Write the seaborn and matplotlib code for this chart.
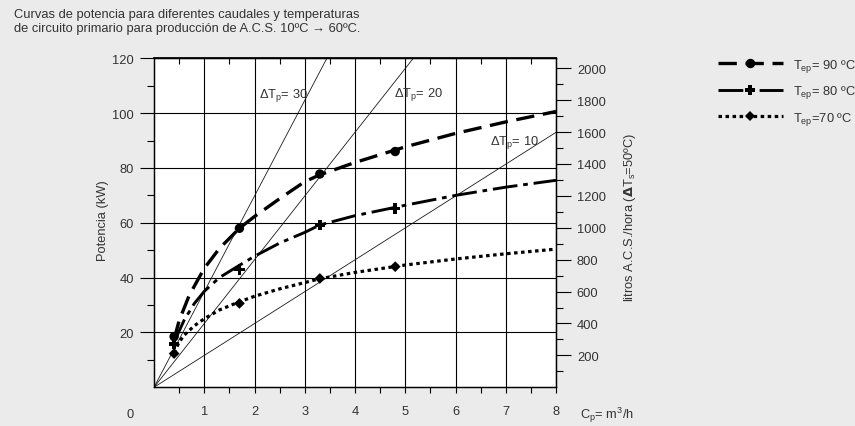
import numpy as np
import pandas as pd
import matplotlib
matplotlib.use("Agg")
import matplotlib.pyplot as plt
import seaborn as sns
from matplotlib import font_manager
from matplotlib.lines import Line2D
from matplotlib.ticker import FixedLocator

# ---------------- data ----------------
caudal_90 = [0.40, 0.50, 0.70, 1.00, 1.30, 1.70, 2.00, 2.50, 3.00, 3.30, 4.00, 5.00, 6.00, 7.00, 8.00]
potencia_90 = [17.5, 24.3, 33.5, 43.4, 50.6, 58.0, 62.3, 68.8, 75.0, 77.5, 82.0, 87.7, 92.6, 96.8, 100.6]
caudal_80 = [0.40, 0.60, 0.80, 1.00, 1.30, 1.70, 2.00, 2.50, 3.00, 3.30, 4.00, 5.00, 6.00, 7.00, 8.00]
potencia_80 = [16.5, 24.5, 30.5, 35.0, 40.0, 44.5, 47.8, 52.6, 56.5, 59.2, 62.6, 66.4, 70.0, 73.0, 75.5]
caudal_70 = [0.40, 0.50, 0.60, 0.80, 1.00, 1.30, 1.70, 2.00, 2.50, 3.00, 3.30, 4.00, 5.00, 6.00, 7.00, 8.00]
potencia_70 = [12.5, 16.5, 19.0, 22.4, 25.0, 28.2, 31.2, 33.2, 35.9, 38.2, 39.6, 41.9, 44.6, 46.8, 48.7, 50.4]

punto_caudal = [0.40, 1.70, 3.30, 4.80]
punto_90 = [18.5, 58.0, 77.8, 86.0]
punto_80 = [15.8, 43.0, 59.1, 65.2]
punto_70 = [12.3, 30.6, 39.7, 44.0]

serie_labels = ["90", "80", "70"]

# Delta Tp straight lines (from origin to where they leave the frame)
dtp_labels = ["30", "20", "10"]
dtp_caudal = [[0.0, 3.44], [0.0, 5.16], [0.0, 8.0]]
dtp_potencia = [[0.0, 120.0], [0.0, 120.0], [0.0, 93.0]]

x_ticks = [1, 2, 3, 4, 5, 6, 7, 8]
y_ticks = [20, 40, 60, 80, 100, 120]
litros_ticks = [200, 400, 600, 800, 1000, 1200, 1400, 1600, 1800, 2000]
litros_max = 2062.5  # litros/hora at 120 kW

# ---------------- style ----------------
sns.set_theme(style="white")
names = {f.name for f in font_manager.fontManager.ttflist}
if "Liberation Sans Narrow" in names:
    FAM = ["Liberation Sans Narrow", "Liberation Sans", "DejaVu Sans"]
    FS = 10.0
else:
    FAM = ["Liberation Sans", "DejaVu Sans"]
    FS = 9.3
plt.rcParams["font.family"] = FAM
plt.rcParams["mathtext.default"] = "regular"
TXT = "#333333"
BG = "#ebebeb"

fig = plt.figure(figsize=(8.55, 4.27), dpi=100, facecolor=BG)
W, H = 855.0, 427.0
L, R, T, B = 154.0, 556.0, 59.3, 388.3
ax = fig.add_axes([L / W, 1 - B / H, (R - L) / W, (B - T) / H])
ax.set_facecolor("white")

# grid
ax.set_xlim(0, 8)
ax.set_ylim(0, 120)
ax.set_axisbelow(True)
ax.xaxis.set_major_locator(FixedLocator(x_ticks))
ax.xaxis.set_minor_locator(FixedLocator([v - 0.5 for v in x_ticks]))
ax.yaxis.set_major_locator(FixedLocator(y_ticks))
ax.yaxis.set_minor_locator(FixedLocator([v - 10 for v in y_ticks]))
ax.grid(True, which="major", color="black", linewidth=0.8)

# Delta Tp lines
for xs, ys in zip(dtp_caudal, dtp_potencia):
    sns.lineplot(x=xs, y=ys, ax=ax, color="#1a1a1a", linewidth=0.6,
                 estimator=None, sort=False)

text_pos = [(2.08, 105.8), (4.77, 106.4), (6.69, 88.8)]
for lab, (tx, ty) in zip(dtp_labels, text_pos):
    ax.text(tx, ty, "Δ$\\mathregular{T_p}$= " + lab, fontsize=FS, color=TXT,
            ha="left", va="baseline")

# curves
styles = [
    dict(lw=2.4, ls=(0, (5.5, 2.6)), marker="o", ms=6.8, s=46),
    dict(lw=2.1, ls=(0, (8.5, 2.0, 1.6, 2.0)), marker="P", ms=7.5, s=56),
    dict(lw=2.3, ls=(0, (1.1, 1.1)), marker="D", ms=5.3, s=30),
]
curves = [(caudal_90, potencia_90, punto_90),
          (caudal_80, potencia_80, punto_80),
          (caudal_70, potencia_70, punto_70)]
handles = []
for (cx, cy, py), st in zip(curves, styles):
    sns.lineplot(x=cx, y=cy, ax=ax, color="black", linewidth=st["lw"],
                 linestyle=st["ls"], estimator=None, sort=False)
    sns.scatterplot(x=punto_caudal, y=py, ax=ax, color="black", marker=st["marker"],
                    s=st["s"], linewidth=0, edgecolor="none", zorder=5)
    handles.append(Line2D([0], [0], color="black", lw=st["lw"], linestyle=st["ls"],
                          marker=st["marker"], markersize=st["ms"],
                          markeredgewidth=0, markerfacecolor="black"))

# ticks
ax.tick_params(axis="x", which="both", direction="out", bottom=True, top=False,
               length=4, width=0.8, color="black", labelsize=FS, labelcolor=TXT, pad=9)
ax.tick_params(axis="y", which="major", direction="out", left=True, length=10,
               width=0.8, color="black", labelsize=FS, labelcolor=TXT, pad=4.5)
ax.tick_params(axis="y", which="minor", direction="out", left=True, length=5,
               width=0.8, color="black")
ax.set_xticklabels([str(v) for v in x_ticks])
ax.set_yticklabels([str(v) for v in y_ticks])
for sp in ax.spines.values():
    sp.set_color("black")
    sp.set_linewidth(0.9)

top = ax.secondary_xaxis("top")
top.set_xticks([v - 0.5 for v in x_ticks])
top.tick_params(direction="in", length=4, width=0.8, color="black", labeltop=False)
top.spines["top"].set_color("black")

ax.set_xlabel("C$\\mathregular{_p}$= m$\\mathregular{^3}$/h", fontsize=FS, color=TXT)
ax.xaxis.label.set(ha="left", va="center")
ax.xaxis.set_label_coords((580 - L) / (R - L), (B - 415) / (B - T))
ax.set_ylabel("Potencia (kW)", fontsize=FS, color=TXT)
ax.yaxis.label.set(ha="center", va="center", rotation_mode="default")
ax.yaxis.set_label_coords((103 - L) / (R - L), (B - 221) / (B - T))
ax.text((130 - L) / (R - L), (B - 415) / (B - T), "0", transform=ax.transAxes,
        fontsize=FS, color=TXT, ha="center", va="center")

# right axis (litros/hora)
ax2 = ax.twinx()
ax2.set_ylim(0, litros_max)
ax2.yaxis.set_major_locator(FixedLocator(litros_ticks))
ax2.yaxis.set_minor_locator(FixedLocator([v - 100 for v in litros_ticks]))
ax2.set_yticklabels([str(v) for v in litros_ticks])
ax2.tick_params(axis="y", which="major", direction="out", right=True, length=10.5,
                width=0.8, color="black", labelsize=FS, labelcolor=TXT, pad=4.5)
ax2.tick_params(axis="y", which="minor", direction="out", right=True, length=5,
                width=0.8, color="black")
ax2.grid(False)
for sp in ax2.spines.values():
    sp.set_color("black")
    sp.set_linewidth(0.9)
ax2.set_ylabel("litros A.C.S./hora ($\\mathbf{\\Delta}$$\\mathregular{T_s}$=50ºC)",
               fontsize=FS, color=TXT)
ax2.yaxis.label.set(ha="center", va="center", rotation_mode="default")
ax2.yaxis.set_label_coords((630 - L) / (R - L), (B - 217.5) / (B - T))

# title
fig.text(14 / W, 1 - 9 / H,
         "Curvas de potencia para diferentes caudales y temperaturas\n"
         "de circuito primario para producción de A.C.S. 10ºC → 60ºC.",
         fontsize=FS, color=TXT, ha="left", va="top", linespacing=1.25)

# legend
labels = ["$\\mathregular{T_{ep}}$= " + serie_labels[0] + " ºC",
          "$\\mathregular{T_{ep}}$= " + serie_labels[1] + " ºC",
          "$\\mathregular{T_{ep}}$=" + serie_labels[2] + " ºC"]
leg = fig.legend(handles, labels, loc="upper left", bbox_to_anchor=(718 / W, 1 - 58 / H),
                 frameon=False, borderpad=0, borderaxespad=0, handlelength=5.0,
                 handletextpad=0.78, labelspacing=0.72, fontsize=FS)
for t in leg.get_texts():
    t.set_color(TXT)

fig.savefig("out.png", dpi=100, facecolor=BG)
